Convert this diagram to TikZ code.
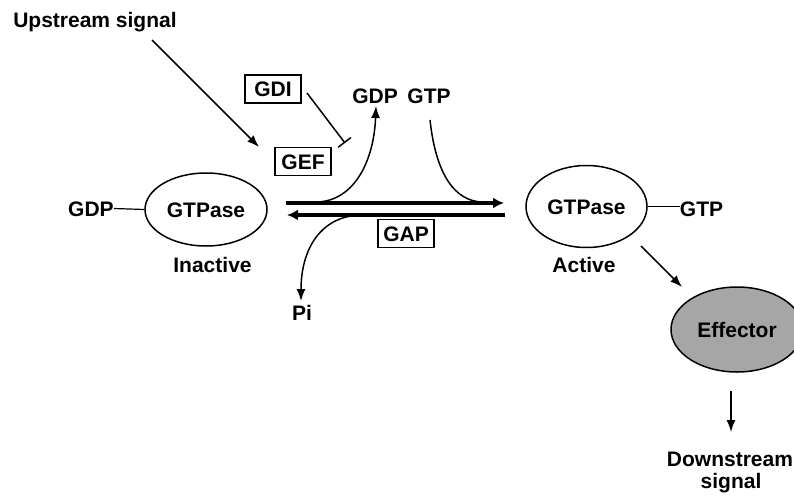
\documentclass[tikz,border=0pt]{standalone}
\usepackage{fontspec}
\setmainfont{Liberation Sans}
\usepackage{tikz}
\usetikzlibrary{shapes.geometric, arrows.meta, positioning, calc}
\tikzset{
    lbl/.style={font=\fontsize{21}{25}\selectfont\bfseries, inner sep=0pt,
                text height=15pt, text depth=0pt},
    gtpase/.style={lbl, draw, ellipse, line width=1.5pt},
    regbox/.style={lbl, draw, line width=1.3pt, minimum width=56pt, minimum height=28pt},
    thinarrow/.style={line width=1.5pt, -{Latex[length=12pt,width=9pt]}},
    thickarrow/.style={line width=3.8pt, -{Latex[length=11pt,width=11pt]}},
    blockline/.style={line width=1.5pt, -{Bar[width=16pt]}}
}

\begin{document}
\begin{tikzpicture}[x=1pt, y=-1pt]
    \useasboundingbox (0,0) rectangle (794,495);
    % GTPase states and effector
    \node[gtpase, minimum width=122pt, minimum height=73pt] (inactive) at (206,209.5) {GTPase};
    \node[gtpase, minimum width=121pt, minimum height=82pt] (active) at (586.5,206.5) {GTPase};
    \node[gtpase, fill=black!35, minimum width=132pt, minimum height=85pt] (effector) at (737,329.5) {Effector};
    % Bound nucleotides
    \node[lbl] (gdpL) at (91,208.5) {GDP};
    \node[lbl] (gtpR) at (701.5,208.7) {GTP};
    \draw[line width=1.2pt] (gdpL.east) -- (inactive.west);
    \draw[line width=1.2pt] (active.east) -- (gtpR.west |- active.east);
    % State labels
    \node[lbl] (inactiveLbl) at (212.5,265) {Inactive};
    \node[lbl] (activeLbl) at (584,265) {Active};
    % Regulators
    \node[regbox] (gdi) at (273,89) {GDI};
    \node[regbox] (gef) at (303,161.5) {GEF};
    \node[regbox] (gap) at (406,233.5) {GAP};
    % Exchanged nucleotides and phosphate
    \node[lbl] (gdpOut) at (375,96) {GDP};
    \node[lbl] (gtpIn) at (429,96) {GTP};
    \node[lbl] (pi) at (302,313) {Pi};
    % Signals
    \node[lbl] (upstream) at (95,20) {Upstream signal};
    \node[lbl] (downstream) at (730,459) {Downstream};
    \node[lbl] (downstreamSig) at (731,481) {signal};

    % Exchange / hydrolysis arrows
    \coordinate (fwdStart) at (286,203);
    \coordinate (fwdEnd) at (504,203);
    \coordinate (bwdStart) at (505,215);
    \coordinate (bwdEnd) at (287,215);
    \draw[thickarrow] (fwdStart) -- (fwdEnd);
    \draw[thickarrow] (bwdStart) -- (bwdEnd);
    % GDP out, GTP in, Pi out
    \coordinate (gdpFrom) at (318,202);
    \coordinate (gdpTip) at (376,106);
    \coordinate (gtpFrom) at (430,120);
    \coordinate (gtpTo) at (482,202);
    \coordinate (piFrom) at (361,215);
    \coordinate (piTip) at (301,301);
    \draw[thinarrow] (gdpFrom) .. controls (355,200) and (374,160) .. (gdpTip);
    \draw[line width=1.5pt] (gtpFrom) .. controls (436,175) and (455,201) .. (gtpTo);
    \draw[thinarrow] (piFrom) .. controls (320,216) and (301,250) .. (piTip);
    % Upstream activation and GDI block
    \coordinate (upStart) at (152,40);
    \coordinate (upEnd) at (259,147);
    \draw[thinarrow] (upStart) -- (upEnd);
    \coordinate (gdiStart) at (307,93);
    \coordinate (gdiEnd) at (345,143);
    \draw[blockline] (gdiStart) -- (gdiEnd);
    % Downstream
    \coordinate (effStart) at (641,246);
    \coordinate (effEnd) at (682,287);
    \draw[thinarrow] (effStart) -- (effEnd);
    \coordinate (dnStart) at (731,391);
    \coordinate (dnEnd) at (731,432);
    \draw[thinarrow] (dnStart) -- (dnEnd);
\end{tikzpicture}
\end{document}
